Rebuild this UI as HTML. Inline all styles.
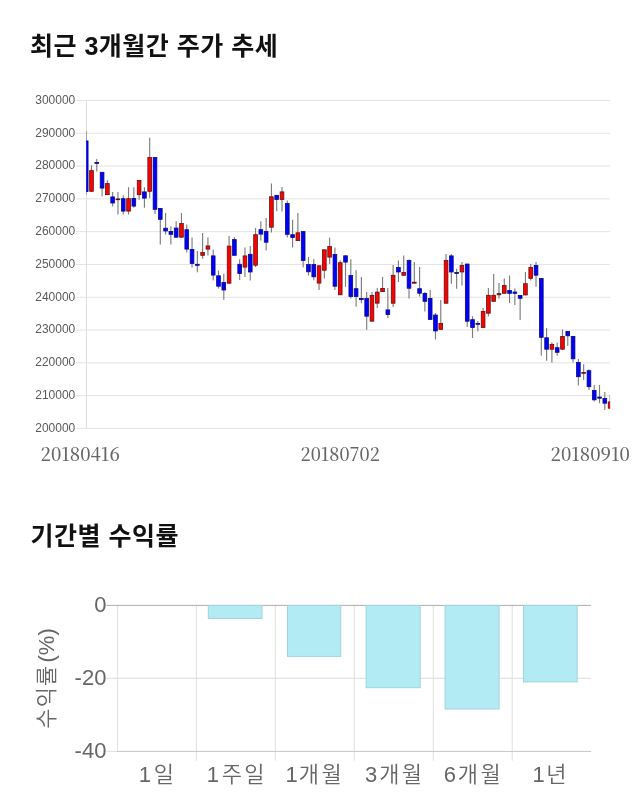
<!DOCTYPE html>
<html lang="ko"><head><meta charset="utf-8"><title>주가 추세</title>
<style>
html,body{margin:0;padding:0;background:#fff;}
body{width:640px;height:810px;position:relative;overflow:hidden;font-family:"Liberation Sans","Noto Sans CJK KR",sans-serif;}
h2{position:absolute;left:30px;margin:0;font-family:"Liberation Sans","Noto Sans CJK KR",sans-serif;font-weight:700;font-size:25px;line-height:36px;color:#111;white-space:nowrap;letter-spacing:0.5px;}
h2.t1{top:28px;}
h2.t2{top:518px;left:30.6px;}
svg{position:absolute;left:0;display:block;}
svg.c1{top:90px;}
svg.c2{top:580px;}
</style></head><body>
<h2 class="t1">최근 3개월간 주가 추세</h2>
<svg class="c1" width="640" height="380" viewBox="0 90 640 380">
<g stroke="#e3e3e3" stroke-width="1">
<line x1="76" y1="100.50" x2="610" y2="100.50"/>
<line x1="76" y1="133.29" x2="610" y2="133.29"/>
<line x1="76" y1="166.08" x2="610" y2="166.08"/>
<line x1="76" y1="198.87" x2="610" y2="198.87"/>
<line x1="76" y1="231.66" x2="610" y2="231.66"/>
<line x1="76" y1="264.45" x2="610" y2="264.45"/>
<line x1="76" y1="297.24" x2="610" y2="297.24"/>
<line x1="76" y1="330.03" x2="610" y2="330.03"/>
<line x1="76" y1="362.82" x2="610" y2="362.82"/>
<line x1="76" y1="395.61" x2="610" y2="395.61"/>
<line x1="76" y1="428.40" x2="610" y2="428.40"/>
</g>
<line x1="86.4" y1="100" x2="86.4" y2="428.9" stroke="#dcdcdc" stroke-width="1"/>
<g font-family="'Liberation Sans', Arial, sans-serif" font-size="12" fill="#5a5a5a" text-anchor="end">
<text x="75.3" y="103.80">300000</text>
<text x="75.3" y="136.59">290000</text>
<text x="75.3" y="169.38">280000</text>
<text x="75.3" y="202.17">270000</text>
<text x="75.3" y="234.96">260000</text>
<text x="75.3" y="267.75">250000</text>
<text x="75.3" y="300.54">240000</text>
<text x="75.3" y="333.33">230000</text>
<text x="75.3" y="366.12">220000</text>
<text x="75.3" y="398.91">210000</text>
<text x="75.3" y="431.70">200000</text>
</g>
<g font-family="'Noto Serif CJK SC', 'Noto Serif CJK KR', 'Liberation Serif', serif" font-size="18" font-weight="500" fill="#666">
<text x="40.6" y="461.4" textLength="79.2" lengthAdjust="spacingAndGlyphs">20180416</text>
<text x="300.6" y="461.4" textLength="79.2" lengthAdjust="spacingAndGlyphs">20180702</text>
<text x="550.6" y="461.4" textLength="79.2" lengthAdjust="spacingAndGlyphs">20180910</text>
</g>
<clipPath id="cp"><rect x="86.2" y="95" width="523.9" height="340"/></clipPath>
<g clip-path="url(#cp)">
<path d="M86.20 130.90V194.70M91.49 165.30V191.60M96.78 159.00V171.60M102.08 172.00V196.60M107.37 180.20V195.00M112.66 191.90V206.40M117.95 191.90V214.50M123.24 195.30V214.50M128.54 187.20V214.50M133.83 187.20V207.80M139.12 180.20V199.70M144.41 187.20V207.80M149.70 137.70V198.10M155.00 157.20V214.00M160.29 208.10V244.40M165.58 213.10V234.40M170.87 226.25V244.40M176.16 221.25V237.50M181.46 213.10V237.50M186.75 224.60V252.50M192.04 237.50V267.50M197.33 250.90V272.25M202.62 232.90V258.75M207.92 237.50V255.60M213.21 249.40V280.60M218.50 270.60V288.50M223.79 273.75V299.75M229.08 236.10V283.50M234.38 237.20V255.60M239.67 259.20V280.00M244.96 247.40V276.90M250.25 246.10V280.60M255.54 228.10V267.00M260.84 221.25V240.60M266.13 218.10V250.60M271.42 183.50V232.50M276.71 195.00V211.25M282.00 187.10V211.50M287.30 200.40V237.50M292.59 219.75V247.50M297.88 213.10V240.90M303.17 231.30V267.30M308.46 257.10V275.50M313.76 259.00V280.25M319.05 265.50V290.10M324.34 249.50V278.60M329.63 237.75V264.00M334.92 247.40V290.10M340.22 260.25V295.10M345.51 255.50V286.75M350.80 259.25V298.40M356.09 270.25V306.75M361.38 277.00V303.25M366.68 292.00V329.75M371.97 292.00V321.45M377.26 288.00V308.00M382.55 276.90V291.90M387.84 288.10V317.90M393.14 265.00V306.90M398.43 260.40V281.90M403.72 255.60V275.60M409.01 259.40V298.50M414.30 261.90V283.50M419.60 266.90V296.50M424.89 291.90V311.60M430.18 290.00V319.75M435.47 313.10V339.40M440.76 300.00V329.60M446.06 254.00V303.50M451.35 254.00V283.75M456.64 268.75V288.75M461.93 261.90V285.40M467.22 263.75V326.90M472.52 316.25V338.10M477.81 321.00V331.25M483.10 308.10V327.75M488.39 288.10V316.50M493.68 274.00V301.60M498.98 283.10V298.50M504.27 278.50V293.55M509.56 275.50V303.00M514.85 288.40V304.90M520.14 295.10V319.90M525.44 272.00V295.25M530.73 264.00V280.50M536.02 262.10V286.75M541.31 278.25V355.75M546.60 328.00V360.75M551.90 342.20V362.60M557.19 342.50V355.75M562.48 329.40V349.50M567.77 331.10V346.00M573.06 336.10V362.60M578.36 359.10V385.50M583.65 364.25V380.10M588.94 369.25V390.10M594.23 385.10V401.60M599.52 385.10V403.25M604.82 392.00V409.90M610.11 395.10V408.50" stroke="#7d7d7d" stroke-width="1.15" fill="none"/>
<g fill="#ff0000" stroke="#5c1212" stroke-width="0.8"><rect x="89.64" y="170.60" width="3.7" height="20.70"/><rect x="105.52" y="183.60" width="3.7" height="11.10"/><rect x="116.10" y="198.90" width="3.7" height="0.80"/><rect x="126.69" y="198.70" width="3.7" height="12.40"/><rect x="137.27" y="180.50" width="3.7" height="14.20"/><rect x="147.85" y="157.50" width="3.7" height="33.80"/><rect x="179.61" y="223.40" width="3.7" height="13.80"/><rect x="200.77" y="252.55" width="3.7" height="2.75"/><rect x="206.07" y="245.90" width="3.7" height="3.20"/><rect x="227.23" y="246.10" width="3.7" height="37.10"/><rect x="243.11" y="255.90" width="3.7" height="11.20"/><rect x="253.69" y="234.70" width="3.7" height="30.50"/><rect x="269.57" y="196.80" width="3.7" height="30.40"/><rect x="280.15" y="191.90" width="3.7" height="7.55"/><rect x="296.03" y="232.80" width="3.7" height="7.80"/><rect x="317.20" y="265.80" width="3.7" height="17.30"/><rect x="322.49" y="249.80" width="3.7" height="20.40"/><rect x="327.78" y="246.40" width="3.7" height="10.70"/><rect x="338.37" y="262.70" width="3.7" height="32.10"/><rect x="370.12" y="295.40" width="3.7" height="25.75"/><rect x="375.41" y="292.10" width="3.7" height="11.05"/><rect x="380.70" y="288.40" width="3.7" height="3.20"/><rect x="391.29" y="275.30" width="3.7" height="27.90"/><rect x="401.87" y="272.40" width="3.7" height="2.90"/><rect x="412.45" y="282.20" width="3.7" height="1.00"/><rect x="438.91" y="323.40" width="3.7" height="5.90"/><rect x="444.21" y="260.55" width="3.7" height="42.65"/><rect x="460.08" y="265.55" width="3.7" height="6.40"/><rect x="481.25" y="311.55" width="3.7" height="15.90"/><rect x="486.54" y="295.30" width="3.7" height="17.90"/><rect x="491.83" y="295.30" width="3.7" height="6.00"/><rect x="497.13" y="293.60" width="3.7" height="1.20"/><rect x="502.42" y="285.55" width="3.7" height="7.70"/><rect x="523.59" y="283.70" width="3.7" height="11.25"/><rect x="528.88" y="267.40" width="3.7" height="10.90"/><rect x="550.05" y="344.55" width="3.7" height="4.65"/><rect x="560.63" y="336.40" width="3.7" height="12.80"/><rect x="581.80" y="372.55" width="3.7" height="0.75"/><rect x="608.26" y="401.90" width="3.7" height="6.30"/></g>
<g fill="#0000ff" stroke="#0a0a78" stroke-width="0.8"><rect x="84.35" y="140.90" width="3.7" height="50.70"/><rect x="94.93" y="162.50" width="3.7" height="0.95"/><rect x="100.23" y="172.30" width="3.7" height="15.80"/><rect x="110.81" y="196.90" width="3.7" height="6.10"/><rect x="121.39" y="198.70" width="3.7" height="12.40"/><rect x="131.98" y="198.40" width="3.7" height="7.70"/><rect x="142.56" y="191.90" width="3.7" height="6.20"/><rect x="153.15" y="157.50" width="3.7" height="51.80"/><rect x="158.44" y="208.40" width="3.7" height="10.90"/><rect x="163.73" y="228.20" width="3.7" height="2.75"/><rect x="169.02" y="231.55" width="3.7" height="2.75"/><rect x="174.31" y="228.05" width="3.7" height="9.15"/><rect x="184.90" y="229.70" width="3.7" height="19.40"/><rect x="190.19" y="249.40" width="3.7" height="14.05"/><rect x="195.48" y="264.30" width="3.7" height="1.00"/><rect x="211.36" y="255.90" width="3.7" height="19.20"/><rect x="216.65" y="275.80" width="3.7" height="10.40"/><rect x="221.94" y="282.50" width="3.7" height="7.50"/><rect x="232.53" y="239.60" width="3.7" height="15.70"/><rect x="237.82" y="264.30" width="3.7" height="9.15"/><rect x="248.40" y="254.30" width="3.7" height="17.65"/><rect x="258.99" y="229.70" width="3.7" height="4.40"/><rect x="264.28" y="231.55" width="3.7" height="10.65"/><rect x="274.86" y="195.30" width="3.7" height="4.15"/><rect x="285.45" y="203.55" width="3.7" height="30.75"/><rect x="290.74" y="234.70" width="3.7" height="2.75"/><rect x="301.32" y="231.60" width="3.7" height="28.80"/><rect x="306.61" y="264.55" width="3.7" height="7.25"/><rect x="311.91" y="264.55" width="3.7" height="12.25"/><rect x="333.07" y="254.55" width="3.7" height="31.65"/><rect x="343.66" y="255.80" width="3.7" height="6.30"/><rect x="348.95" y="275.55" width="3.7" height="20.90"/><rect x="354.24" y="288.70" width="3.7" height="7.75"/><rect x="359.53" y="298.50" width="3.7" height="1.15"/><rect x="364.83" y="298.55" width="3.7" height="17.65"/><rect x="385.99" y="309.90" width="3.7" height="4.55"/><rect x="396.58" y="267.40" width="3.7" height="4.55"/><rect x="407.16" y="260.55" width="3.7" height="27.65"/><rect x="417.75" y="288.70" width="3.7" height="4.50"/><rect x="423.04" y="293.40" width="3.7" height="7.90"/><rect x="428.33" y="298.40" width="3.7" height="21.05"/><rect x="433.62" y="315.05" width="3.7" height="15.90"/><rect x="449.50" y="255.90" width="3.7" height="16.05"/><rect x="454.79" y="272.55" width="3.7" height="0.90"/><rect x="465.37" y="264.05" width="3.7" height="57.15"/><rect x="470.67" y="319.70" width="3.7" height="7.75"/><rect x="475.96" y="323.40" width="3.7" height="0.90"/><rect x="507.71" y="290.55" width="3.7" height="2.75"/><rect x="513.00" y="292.05" width="3.7" height="1.25"/><rect x="518.29" y="295.40" width="3.7" height="2.90"/><rect x="534.17" y="265.55" width="3.7" height="9.65"/><rect x="539.46" y="278.55" width="3.7" height="58.75"/><rect x="544.75" y="337.80" width="3.7" height="11.40"/><rect x="555.34" y="347.70" width="3.7" height="4.60"/><rect x="565.92" y="331.40" width="3.7" height="4.40"/><rect x="571.21" y="336.40" width="3.7" height="22.40"/><rect x="576.51" y="362.55" width="3.7" height="14.15"/><rect x="587.09" y="370.70" width="3.7" height="16.00"/><rect x="592.38" y="390.40" width="3.7" height="9.40"/><rect x="597.67" y="397.05" width="3.7" height="1.15"/><rect x="602.97" y="398.55" width="3.7" height="4.65"/></g>
</g>
</svg>
<h2 class="t2">기간별 수익률</h2>
<svg class="c2" width="640" height="230" viewBox="0 580 640 230">
<g stroke="#e2e2e2" stroke-width="1.1">
<line x1="117.50" y1="605.4" x2="117.50" y2="751.4"/>
<line x1="196.45" y1="605.4" x2="196.45" y2="760.8"/>
<line x1="275.40" y1="605.4" x2="275.40" y2="760.8"/>
<line x1="354.35" y1="605.4" x2="354.35" y2="760.8"/>
<line x1="433.30" y1="605.4" x2="433.30" y2="760.8"/>
<line x1="512.25" y1="605.4" x2="512.25" y2="760.8"/>
<line x1="106.5" y1="678.4" x2="591" y2="678.4"/>
<line x1="106.5" y1="751.4" x2="117.5" y2="751.4"/>
</g>
<line x1="117" y1="751.4" x2="591" y2="751.4" stroke="#c6c6c6" stroke-width="1"/>
<line x1="106.5" y1="605.4" x2="591" y2="605.4" stroke="#adadad" stroke-width="1"/>
<g fill="#b2ebf3" stroke="#a1d4de" stroke-width="1">
<rect x="208.3" y="605.4" width="53.70" height="13.10"/>
<rect x="287.5" y="605.4" width="53.25" height="51.00"/>
<rect x="366.1" y="605.4" width="54.10" height="82.30"/>
<rect x="445.1" y="605.4" width="54.00" height="103.60"/>
<rect x="523.5" y="605.4" width="53.70" height="76.50"/>
</g>
<g font-family="'Liberation Sans', 'Noto Sans CJK KR', sans-serif" font-size="22" fill="#666">
<text x="106.4" y="611.7" text-anchor="end">0</text>
<text x="106.4" y="684.7" text-anchor="end">-20</text>
<text x="106.4" y="757.7" text-anchor="end">-40</text>
<text x="138.7" y="782"><tspan>1</tspan><tspan dx="2.8" letter-spacing="2.3" font-weight="350">일</tspan></text>
<text x="206.7" y="782"><tspan>1</tspan><tspan dx="2.8" letter-spacing="2.3" font-weight="350">주일</tspan></text>
<text x="285.4" y="782"><tspan>1</tspan><tspan dx="1.2" letter-spacing="2.3" font-weight="350">개월</tspan></text>
<text x="365.0" y="782"><tspan>3</tspan><tspan dx="2.0" letter-spacing="2.3" font-weight="350">개월</tspan></text>
<text x="443.8" y="782"><tspan>6</tspan><tspan dx="1.8" letter-spacing="2.3" font-weight="350">개월</tspan></text>
<text x="532.4" y="782"><tspan>1</tspan><tspan dx="1.6" letter-spacing="2.3" font-weight="350">년</tspan></text>
<text transform="translate(54,678.5) rotate(-90)" text-anchor="middle" ><tspan letter-spacing="1.2" font-weight="350">수익률</tspan><tspan dx="2">(%)</tspan></text>
</g>
</svg>
</body></html>
